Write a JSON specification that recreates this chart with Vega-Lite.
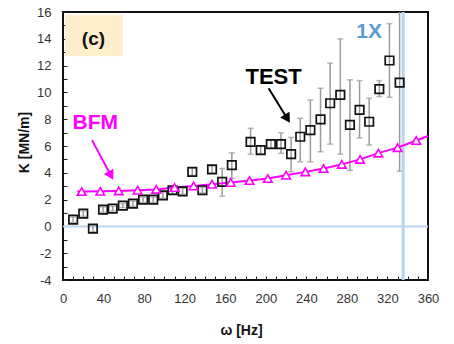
{
  "$schema": "https://vega.github.io/schema/vega-lite/v6.json",
  "width": 365,
  "height": 268,
  "autosize": {"type": "none"},
  "padding": {"left": 63, "top": 12, "right": 26, "bottom": 64},
  "background": "white",
  "config": {
    "view": {"stroke": "#111", "strokeWidth": 2},
    "font": "Liberation Sans",
    "axis": {
      "grid": false,
      "domain": false,
      "tickSize": -4,
      "tickColor": "#222",
      "tickWidth": 1,
      "labelPadding": 16,
      "labelFont": "Liberation Sans",
      "labelFontSize": 13,
      "labelColor": "#333",
      "labelOverlap": false,
      "labelFlush": false,
      "titleFont": "Liberation Sans",
      "titleFontSize": 14,
      "titleFontWeight": "bold",
      "titleColor": "#111"
    }
  },
  "datasets": {
    "test": [
      {"w": 10, "K": 0.5, "lo": 0.3, "hi": 0.7},
      {"w": 20, "K": 0.95, "lo": 0.75, "hi": 1.15},
      {"w": 29.5, "K": -0.17, "lo": -0.4, "hi": 0.05},
      {"w": 39.5, "K": 1.25, "lo": 1.05, "hi": 1.45},
      {"w": 49, "K": 1.33, "lo": 1.15, "hi": 1.5},
      {"w": 59, "K": 1.55, "lo": 1.4, "hi": 1.7},
      {"w": 69, "K": 1.7, "lo": 1.5, "hi": 1.9},
      {"w": 79, "K": 2.0, "lo": 1.8, "hi": 2.2},
      {"w": 89, "K": 2.0, "lo": 1.8, "hi": 2.2},
      {"w": 98.5, "K": 2.32, "lo": 2.1, "hi": 2.55},
      {"w": 108, "K": 2.7, "lo": 2.45, "hi": 2.95},
      {"w": 118, "K": 2.62, "lo": 2.4, "hi": 2.85},
      {"w": 127.5, "K": 4.07, "lo": 3.8, "hi": 4.35},
      {"w": 137.5, "K": 2.7, "lo": 2.5, "hi": 2.9},
      {"w": 147, "K": 4.25, "lo": 4.0, "hi": 4.5},
      {"w": 157, "K": 3.32, "lo": 2.25, "hi": 4.32},
      {"w": 166.5, "K": 4.57, "lo": 3.57, "hi": 5.49},
      {"w": 185, "K": 6.31, "lo": 5.39, "hi": 7.32},
      {"w": 195, "K": 5.69, "lo": 5.4, "hi": 6.0},
      {"w": 205, "K": 6.14, "lo": 5.85, "hi": 6.45},
      {"w": 215, "K": 6.14, "lo": 5.45, "hi": 6.99},
      {"w": 225, "K": 5.39, "lo": 4.07, "hi": 6.64},
      {"w": 234, "K": 6.69, "lo": 4.82, "hi": 8.07},
      {"w": 244, "K": 7.19, "lo": 4.82, "hi": 9.44},
      {"w": 254, "K": 7.99, "lo": 5.57, "hi": 10.31},
      {"w": 263.5, "K": 9.19, "lo": 6.14, "hi": 12.19},
      {"w": 273.5, "K": 9.81, "lo": 5.39, "hi": 13.99},
      {"w": 283, "K": 7.57, "lo": 4.19, "hi": 10.94},
      {"w": 292.5, "K": 8.69, "lo": 6.6, "hi": 10.88},
      {"w": 302, "K": 7.81, "lo": 6.07, "hi": 9.57},
      {"w": 312, "K": 10.24, "lo": 9.69, "hi": 10.88},
      {"w": 322, "K": 12.38, "lo": 9.64, "hi": 15.13},
      {"w": 332, "K": 10.73, "lo": 4.12, "hi": 16.6}
    ],
    "bfm": [
      {"w": 14, "K": 2.6, "tri": false},
      {"w": 18.4, "K": 2.6, "tri": true},
      {"w": 36.8, "K": 2.62, "tri": true},
      {"w": 55, "K": 2.65, "tri": true},
      {"w": 73.6, "K": 2.7, "tri": true},
      {"w": 92, "K": 2.76, "tri": true},
      {"w": 110, "K": 2.9, "tri": true},
      {"w": 128.8, "K": 3.02, "tri": true},
      {"w": 147, "K": 3.15, "tri": true},
      {"w": 165.5, "K": 3.28, "tri": true},
      {"w": 184, "K": 3.42, "tri": true},
      {"w": 202, "K": 3.57, "tri": true},
      {"w": 220, "K": 3.82, "tri": true},
      {"w": 239, "K": 4.07, "tri": true},
      {"w": 257, "K": 4.32, "tri": true},
      {"w": 275, "K": 4.63, "tri": true},
      {"w": 293, "K": 5.0, "tri": true},
      {"w": 311, "K": 5.47, "tri": true},
      {"w": 330, "K": 5.88, "tri": true},
      {"w": 348.4, "K": 6.41, "tri": true},
      {"w": 360, "K": 6.75, "tri": false}
    ]
  },
  "encoding": {
    "x": {
      "type": "quantitative",
      "scale": {"domain": [0, 360], "nice": false, "zero": false},
      "axis": {
        "title": "ω [Hz]",
        "values": [0,10,20,30,40,50,60,70,80,90,100,110,120,130,140,150,160,170,180,190,200,210,220,230,240,250,260,270,280,290,300,310,320,330,340,350,360],
        "labelExpr": "datum.value % 40 == 0 ? '' + datum.value : ''",
        "titleX": 178,
        "titleY": 54,
        "titleBaseline": "alphabetic",
        "titleAnchor": null,
        "titleAlign": "center"
      }
    },
    "y": {
      "type": "quantitative",
      "scale": {"domain": [-4, 16], "nice": false, "zero": false},
      "axis": {
        "title": "K [MN/m]",
        "values": [-4,-3,-2,-1,0,1,2,3,4,5,6,7,8,9,10,11,12,13,14,15,16],
        "labelExpr": "datum.value % 2 == 0 ? '' + datum.value : ''",
        "titleX": -35,
        "titleY": 130,
        "titleBaseline": "alphabetic",
        "titleAlign": "center",
        "titleAngle": 270
      }
    }
  },
  "layer": [
    {
      "data": {"values": [{"x1": 2.2, "x2": 59, "y1": 12.7, "y2": 15.8}]},
      "mark": {"type": "rect", "color": "#fdedcb"},
      "encoding": {
        "x": {"field": "x1", "type": "quantitative"},
        "x2": {"field": "x2"},
        "y": {"field": "y1", "type": "quantitative"},
        "y2": {"field": "y2"}
      }
    },
    {
      "data": {"values": [{"K": 0}]},
      "mark": {"type": "rule", "color": "#bdd7ee", "strokeWidth": 2},
      "encoding": {"y": {"field": "K", "type": "quantitative"}}
    },
    {
      "data": {"name": "test"},
      "mark": {"type": "rule", "color": "#9a9a9a", "strokeWidth": 1.5, "clip": true},
      "encoding": {
        "x": {"field": "w", "type": "quantitative"},
        "y": {"field": "lo", "type": "quantitative"},
        "y2": {"field": "hi"}
      }
    },
    {
      "data": {"name": "test"},
      "mark": {"type": "tick", "color": "#9a9a9a", "orient": "horizontal", "size": 6, "thickness": 1.5, "clip": true},
      "encoding": {
        "x": {"field": "w", "type": "quantitative"},
        "y": {"field": "lo", "type": "quantitative"}
      }
    },
    {
      "data": {"name": "test"},
      "mark": {"type": "tick", "color": "#9a9a9a", "orient": "horizontal", "size": 6, "thickness": 1.5, "clip": true},
      "encoding": {
        "x": {"field": "w", "type": "quantitative"},
        "y": {"field": "hi", "type": "quantitative"}
      }
    },
    {
      "data": {"values": [{"w": 335.5}]},
      "mark": {"type": "rule", "color": "#b4d4f0", "strokeWidth": 3},
      "encoding": {"x": {"field": "w", "type": "quantitative"}}
    },
    {
      "data": {"name": "bfm"},
      "mark": {"type": "line", "color": "#ff00ff", "strokeWidth": 2},
      "encoding": {
        "x": {"field": "w", "type": "quantitative"},
        "y": {"field": "K", "type": "quantitative"}
      }
    },
    {
      "data": {"name": "test"},
      "mark": {"type": "point", "shape": "square", "size": 72, "filled": false, "stroke": "#111", "strokeWidth": 1.7, "opacity": 1},
      "encoding": {
        "x": {"field": "w", "type": "quantitative"},
        "y": {"field": "K", "type": "quantitative"}
      }
    },
    {
      "data": {"name": "bfm"},
      "transform": [{"filter": "datum.tri"}],
      "mark": {"type": "point", "shape": "triangle-up", "size": 75, "filled": true, "fill": "white", "stroke": "#ff00ff", "strokeWidth": 1.6, "opacity": 1},
      "encoding": {
        "x": {"field": "w", "type": "quantitative"},
        "y": {"field": "K", "type": "quantitative"}
      }
    },
    {
      "data": {"values": [{"w": 202.8, "K": 10.31, "w2": 221.3, "K2": 8.04}]},
      "mark": {"type": "rule", "color": "#000", "strokeWidth": 2},
      "encoding": {
        "x": {"field": "w", "type": "quantitative"},
        "y": {"field": "K", "type": "quantitative"},
        "x2": {"field": "w2"},
        "y2": {"field": "K2"}
      }
    },
    {
      "data": {"values": [{"w": 221.3, "K": 8.04}]},
      "mark": {"type": "point", "shape": "triangle-up", "size": 120, "filled": true, "color": "#000", "angle": 148, "opacity": 1},
      "encoding": {
        "x": {"field": "w", "type": "quantitative"},
        "y": {"field": "K", "type": "quantitative"}
      }
    },
    {
      "data": {"values": [{"w": 28.6, "K": 6.44, "w2": 47.3, "K2": 3.8}]},
      "mark": {"type": "rule", "color": "#ff00ff", "strokeWidth": 2},
      "encoding": {
        "x": {"field": "w", "type": "quantitative"},
        "y": {"field": "K", "type": "quantitative"},
        "x2": {"field": "w2"},
        "y2": {"field": "K2"}
      }
    },
    {
      "data": {"values": [{"w": 47.3, "K": 3.8}]},
      "mark": {"type": "point", "shape": "triangle-up", "size": 120, "filled": true, "color": "#ff00ff", "angle": 151, "opacity": 1},
      "encoding": {
        "x": {"field": "w", "type": "quantitative"},
        "y": {"field": "K", "type": "quantitative"}
      }
    },
    {
      "data": {"values": [{"w": 30, "K": 14.0, "t": "(c)"}]},
      "mark": {"type": "text", "font": "Liberation Sans", "fontSize": 19, "fontWeight": "bold", "color": "#111", "align": "center", "baseline": "middle"},
      "encoding": {
        "x": {"field": "w", "type": "quantitative"},
        "y": {"field": "K", "type": "quantitative"},
        "text": {"field": "t"}
      }
    },
    {
      "data": {"values": [{"w": 207.7, "K": 11.14, "t": "TEST"}]},
      "mark": {"type": "text", "font": "Liberation Sans", "fontSize": 22, "fontWeight": "bold", "color": "#000", "align": "center", "baseline": "middle"},
      "encoding": {
        "x": {"field": "w", "type": "quantitative"},
        "y": {"field": "K", "type": "quantitative"},
        "text": {"field": "t"}
      }
    },
    {
      "data": {"values": [{"w": 31.8, "K": 7.74, "t": "BFM"}]},
      "mark": {"type": "text", "font": "Liberation Sans", "fontSize": 21, "fontWeight": "bold", "color": "#ff00ff", "align": "center", "baseline": "middle"},
      "encoding": {
        "x": {"field": "w", "type": "quantitative"},
        "y": {"field": "K", "type": "quantitative"},
        "text": {"field": "t"}
      }
    },
    {
      "data": {"values": [{"w": 302, "K": 14.5, "t": "1X"}]},
      "mark": {"type": "text", "font": "Liberation Sans", "fontSize": 21, "fontWeight": "bold", "color": "#5b9bd5", "align": "center", "baseline": "middle"},
      "encoding": {
        "x": {"field": "w", "type": "quantitative"},
        "y": {"field": "K", "type": "quantitative"},
        "text": {"field": "t"}
      }
    }
  ]
}
